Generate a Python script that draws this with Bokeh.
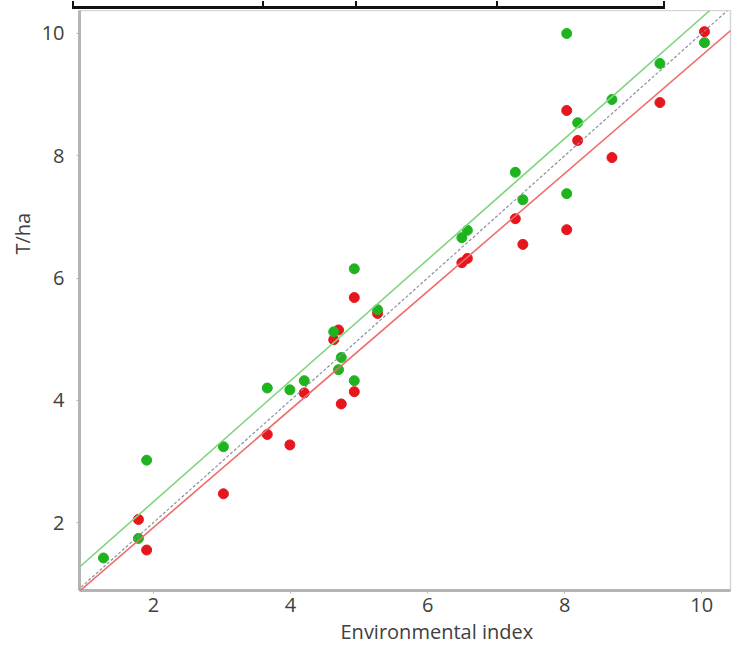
from bokeh.plotting import figure
from bokeh.models import Range1d, Slope, Div, Title
from bokeh.layouts import column
from bokeh.embed import file_html
from bokeh.resources import INLINE

# Environmental index (x) and yields (T/ha) for the two series
green_x = [1.27, 1.78, 1.90, 3.02, 3.66, 3.99, 4.20, 4.63, 4.70, 4.74, 4.93, 4.93,
           5.27, 6.50, 6.58, 7.28, 7.39, 8.03, 8.03, 8.19, 8.69, 9.39, 10.04]
green_y = [1.42, 1.74, 3.02, 3.24, 4.20, 4.17, 4.32, 5.12, 4.50, 4.70, 6.15, 4.32,
           5.48, 6.66, 6.78, 7.73, 7.28, 7.38, 10.0, 8.54, 8.92, 9.51, 9.85]
red_x = [1.78, 1.90, 3.02, 3.66, 3.99, 4.20, 4.63, 4.70, 4.74, 4.93, 4.93,
         5.27, 6.50, 6.58, 7.28, 7.39, 8.03, 8.03, 8.19, 8.69, 9.39, 10.04]
red_y = [2.05, 1.55, 2.47, 3.44, 3.27, 4.12, 4.99, 5.15, 3.94, 5.68, 4.14,
         5.42, 6.25, 6.32, 6.97, 6.55, 6.79, 8.74, 8.25, 7.97, 8.87, 10.03]

# regression lines (slope, intercept)
green_fit = (0.99, 0.36)
red_fit = (0.965, -0.01)
ref_fit = (1.0, 0.0)

x_ticks = [2, 4, 6, 8, 10]
y_ticks = [2, 4, 6, 8, 10]
x_title = "Environmental index"
y_title = "T/ha"

FONT = "Open Sans"
TXT = "#404040"

p = figure(frame_width=651, frame_height=580,
           x_range=Range1d(0.92, 10.42), y_range=Range1d(0.888, 10.376),
           output_backend="svg", toolbar_location=None,
           min_border_left=79, min_border_top=0, min_border_right=6, min_border_bottom=55)

p.grid.visible = False
p.outline_line_color = "#d6d6d6"
p.outline_line_width = 1.5
p.background_fill_color = "white"
p.border_fill_color = "white"

for ax in (p.xaxis[0], p.yaxis[0]):
    ax.axis_line_color = "#b4b4b4"
    ax.axis_line_width = 3
    ax.major_tick_line_color = "#b4b4b4"
    ax.major_tick_out = 3
    ax.major_tick_in = 0
    ax.minor_tick_line_color = None
    ax.major_label_text_font = FONT
    ax.major_label_text_font_size = "20px"
    ax.major_label_text_color = TXT

p.xaxis.ticker = x_ticks
p.yaxis.ticker = y_ticks
p.xaxis.major_label_standoff = 4
p.yaxis.major_label_standoff = 12

# axis titles, placed off-centre as in the original
p.add_layout(Title(text=x_title, align="left", offset=261, text_font=FONT,
                   text_font_size="20px", text_font_style="normal",
                   text_color=TXT, standoff=2), "below")
p.add_layout(Title(text=y_title, align="left", offset=336, text_font=FONT,
                   text_font_size="20px", text_font_style="normal",
                   text_color=TXT, standoff=6), "left")

p.add_layout(Slope(gradient=ref_fit[0], y_intercept=ref_fit[1],
                   line_color="#8c90a0", line_width=1.2, line_dash="3 2"))
p.add_layout(Slope(gradient=green_fit[0], y_intercept=green_fit[1],
                   line_color="#7fd67f", line_width=1.6))
p.add_layout(Slope(gradient=red_fit[0], y_intercept=red_fit[1],
                   line_color="#f06a6a", line_width=1.6))

p.scatter(red_x, red_y, size=10, color="#e5161d", line_color="#e5161d")
p.scatter(green_x, green_y, size=10, color="#1fb41f", line_color="#1fb41f")

cell = "display:inline-block;height:8px;box-sizing:border-box;border-right:2px solid #111;"
box = Div(text=("<div style='width:593px;height:8px;box-sizing:border-box;margin-left:67px;"
                "border-left:2px solid #111;border-bottom:3px solid #111;"
                "white-space:nowrap;font-size:0;'>"
                f"<div style='{cell}width:190px'></div>"
                f"<div style='{cell}width:93px'></div>"
                f"<div style='{cell}width:141px'></div>"
                f"<div style='{cell}width:167px'></div></div>"),
          width=700, height=8)

layout = column(box, p, spacing=0, styles={"margin-top": "-8px"})

open("out.html", "w").write(file_html(layout, INLINE))
